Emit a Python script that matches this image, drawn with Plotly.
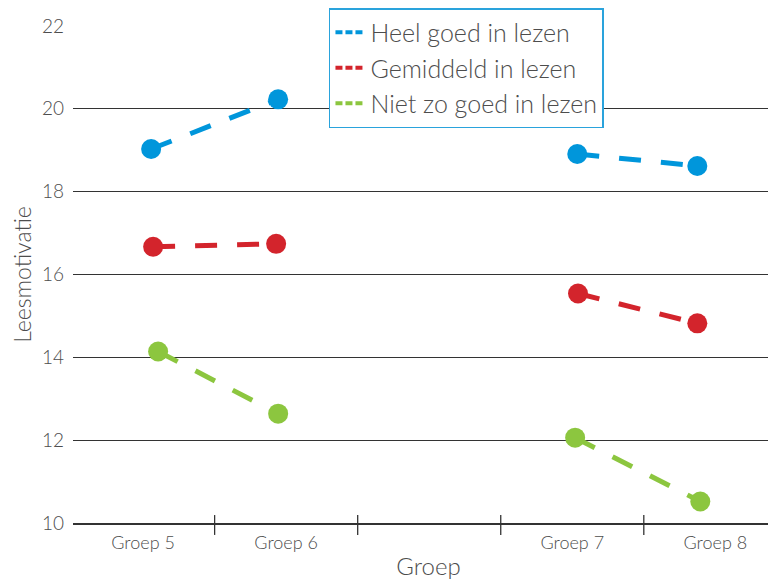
import plotly.graph_objects as go

# ---- data ----
groups = ["Groep 5", "Groep 6", "", "Groep 7", "Groep 8"]
group_centers = [0, 1, 2, 3, 4]
group_bounds = [0.5, 1.5, 2.5, 3.5]

series_names = ["Heel goed in lezen", "Gemiddeld in lezen", "Niet zo goed in lezen"]
series_colors = ["#0096db", "#d3242c", "#8cc63f"]

# x positions of the measured points (slightly dodged within each group)
x_heel = [0.056, 0.944, 3.035, 3.874]
x_gem = [0.07, 0.93, 3.04, 3.874]
x_niet = [0.105, 0.944, 3.02, 3.895]

y_heel = [19.03, 20.23, 18.91, 18.62]
y_gem = [16.67, 16.74, 15.54, 14.82]
y_niet = [14.14, 12.64, 12.06, 10.52]

y_ticks = [10, 12, 14, 16, 18, 20, 22]
x_range = [-0.49, 4.48]
y_range = [10, 22]

FONT = "Lato"
TXT = "#4d4d4d"
W = 300

fig = go.Figure()

series = [(x_heel, y_heel), (x_gem, y_gem), (x_niet, y_niet)]
for name, color, (xs, ys) in zip(series_names, series_colors, series):
    # two separate segments: Groep 5-6 and Groep 7-8
    for seg in (slice(0, 2), slice(2, 4)):
        fig.add_trace(go.Scatter(
            x=xs[seg], y=ys[seg], mode="lines+markers",
            line=dict(color=color, width=5, dash="22px,20px"),
            marker=dict(color=color, size=20),
            showlegend=False, hoverinfo="skip", cliponaxis=False,
        ))
    # legend-only entry
    fig.add_trace(go.Scatter(
        x=[None], y=[None], mode="lines", name=name,
        line=dict(color=color, width=4, dash="7px,3px"),
    ))

# crossing tick marks at group boundaries on the x axis
for b in group_bounds:
    px = (b - x_range[0]) / (x_range[1] - x_range[0])
    fig.add_shape(type="line", xref="paper", yref="paper",
                  x0=px, x1=px, y0=-0.024, y1=0.016,
                  line=dict(color="#333333", width=1.3))

fig.update_layout(
    width=776, height=579,
    margin=dict(l=65, r=0, t=18, b=64, autoexpand=False),
    plot_bgcolor="white", paper_bgcolor="white",
    font=dict(family=FONT, color=TXT, weight=W),
    xaxis=dict(
        range=x_range, tickmode="array", tickvals=group_centers, ticktext=groups,
        ticks="", showgrid=False, zeroline=False, automargin=False,
        showline=True, linecolor="#333333", linewidth=1.5,
        tickfont=dict(size=18, color=TXT, family=FONT, weight=W),
        ticklabelstandoff=3,
        title=dict(text="Groep", font=dict(size=24, color=TXT, family=FONT, weight=W), standoff=6),
        fixedrange=True,
    ),
    yaxis=dict(
        range=y_range, tickmode="array", tickvals=y_ticks,
        showgrid=True, gridcolor="#333333", gridwidth=1.3,
        zeroline=False, showline=False, ticks="", automargin=False,
        tickfont=dict(size=19, color=TXT, family=FONT, weight=W),
        ticklabelstandoff=8,
        title=dict(text="Leesmotivatie", font=dict(size=23, color=TXT, family=FONT, weight=W), standoff=6),
        fixedrange=True,
    ),
    legend=dict(
        x=0.36, y=1.036, xanchor="left", yanchor="top",
        bgcolor="white", bordercolor="#2aa3dc", borderwidth=1.5,
        font=dict(size=25, color=TXT, family=FONT, weight=W),
        itemwidth=30, tracegroupgap=0,
    ),
)

fig.write_html("out.html")
